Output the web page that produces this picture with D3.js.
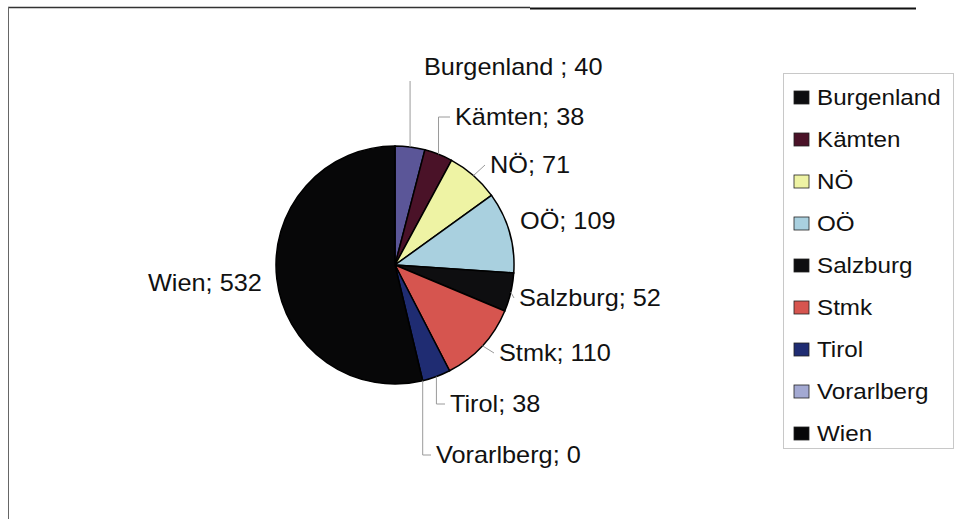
<!DOCTYPE html>
<html>
<head>
<meta charset="utf-8">
<script src="https://cdn.jsdelivr.net/npm/d3@7"></script>
<style>
  body { margin: 0; background: #fff; }
  svg text { font-family: 'Liberation Sans', Arial, sans-serif; fill: #111; }
</style>
</head>
<body>
<svg id="chart" width="956" height="519"></svg>
<script>
// data
const regions = ['Burgenland', 'Kärnten', 'NÖ', 'OÖ', 'Salzburg', 'Stmk', 'Tirol', 'Vorarlberg', 'Wien']
const counts = [40, 38, 71, 109, 52, 110, 38, 0, 532]
const labelTexts = ['Burgenland ; 40', 'Kämten; 38', 'NÖ; 71', 'OÖ; 109', 'Salzburg; 52', 'Stmk; 110', 'Tirol; 38', 'Vorarlberg; 0', 'Wien; 532']
const legendTexts = ['Burgenland', 'Kämten', 'NÖ', 'OÖ', 'Salzburg', 'Stmk', 'Tirol', 'Vorarlberg', 'Wien']
const sliceColors = ['#5b5698', '#4a1228', '#eef3a4', '#a9d0df', '#0e0e10', '#d6554f', '#1f2c72', '#a3a9d2', '#070708']
const legendColors = ['#0e0e10', '#4a1228', '#eef3a4', '#a9d0df', '#0e0e10', '#d6554f', '#1f2c72', '#a3a9d2', '#070708']

// layout (label boxes placed like the original)
const cx = 395
const cy = 265
const radius = 119
const fontSize = 23
const stretch = 1.1
const labelLayout = [
  { x: 424, y: 67, lineTo: 'up' },
  { x: 455, y: 117, lineTo: 'elbow' },
  { x: 490, y: 165, lineTo: 'direct' },
  { x: 520, y: 221, lineTo: null },
  { x: 519, y: 298, lineTo: 'direct' },
  { x: 499, y: 353, lineTo: 'direct' },
  { x: 450, y: 404, lineTo: 'elbow' },
  { x: 436, y: 455, lineTo: 'elbow' },
  { x: 148, y: 283, lineTo: null }
]

const svg = d3.select('#chart')

// frame
svg.append('line').attr('x1', 8).attr('y1', 7.5).attr('x2', 530).attr('y2', 7.5).attr('stroke', '#333').attr('stroke-width', 1.5)
svg.append('line').attr('x1', 530).attr('y1', 8.5).attr('x2', 916).attr('y2', 8.5).attr('stroke', '#111').attr('stroke-width', 2)
svg.append('line').attr('x1', 8.5).attr('y1', 7).attr('x2', 8.5).attr('y2', 519).attr('stroke', '#666').attr('stroke-width', 1)

const data = regions.map((r, i) => ({ region: r, value: counts[i], index: i }))

const pie = d3.pie().sort(null).value(d => d.value)
const arcs = pie(data)
const arc = d3.arc().innerRadius(0).outerRadius(radius)

const g = svg.append('g').attr('transform', `translate(${cx}, ${cy})`)

g.selectAll('path.slice')
  .data(arcs.filter(d => d.data.value > 0))
  .join('path')
  .attr('class', 'slice')
  .attr('d', arc)
  .attr('fill', d => sliceColors[d.data.index])
  .attr('stroke', '#000')
  .attr('stroke-width', 1.5)

// leader lines
const edgePoint = (d) => {
  const a = (d.startAngle + d.endAngle) / 2
  return [cx + radius * Math.sin(a), cy - radius * Math.cos(a)]
}

arcs.forEach((d, i) => {
  const lay = labelLayout[i]
  if (!lay.lineTo) return
  const [ex, ey] = edgePoint(d)
  let pts
  if (lay.lineTo === 'up') {
    pts = [[ex, ey], [ex, lay.y + 14]]
  } else if (lay.lineTo === 'elbow') {
    pts = [[ex, ey], [ex, lay.y], [lay.x - 5, lay.y]]
  } else {
    pts = [[ex, ey], [lay.x - 5, lay.y]]
  }
  svg.append('path')
    .attr('d', d3.line()(pts))
    .attr('fill', 'none')
    .attr('stroke', '#9a9a9a')
    .attr('stroke-width', 1)
})

// data labels
svg.selectAll('text.label')
  .data(arcs)
  .join('text')
  .attr('class', 'label')
  .attr('transform', (d, i) => `translate(${labelLayout[i].x}, ${labelLayout[i].y}) scale(${stretch}, 1)`)
  .attr('dominant-baseline', 'central')
  .attr('font-size', fontSize)
  .text((d, i) => labelTexts[i])

// legend
const legendX = 783
const legendY = 73
const legendW = 170
const legendH = 375
const rowStep = 42

svg.append('rect')
  .attr('x', legendX + 0.5).attr('y', legendY + 0.5)
  .attr('width', legendW).attr('height', legendH)
  .attr('fill', '#fff')
  .attr('stroke', '#c8c8c8')

const legend = svg.append('g').attr('transform', `translate(${legendX}, ${legendY})`)
const rows = legend.selectAll('g.row')
  .data(legendTexts)
  .join('g')
  .attr('class', 'row')
  .attr('transform', (d, i) => `translate(0, ${24 + i * rowStep})`)

rows.append('rect')
  .attr('x', 11).attr('y', -6)
  .attr('width', 15).attr('height', 13)
  .attr('fill', (d, i) => legendColors[i])
  .attr('stroke', '#222')
  .attr('stroke-width', 0.8)

rows.append('text')
  .attr('transform', `translate(34, 0) scale(${stretch}, 1)`)
  .attr('dominant-baseline', 'central')
  .attr('font-size', 22)
  .text(d => d)
</script>
</body>
</html>
